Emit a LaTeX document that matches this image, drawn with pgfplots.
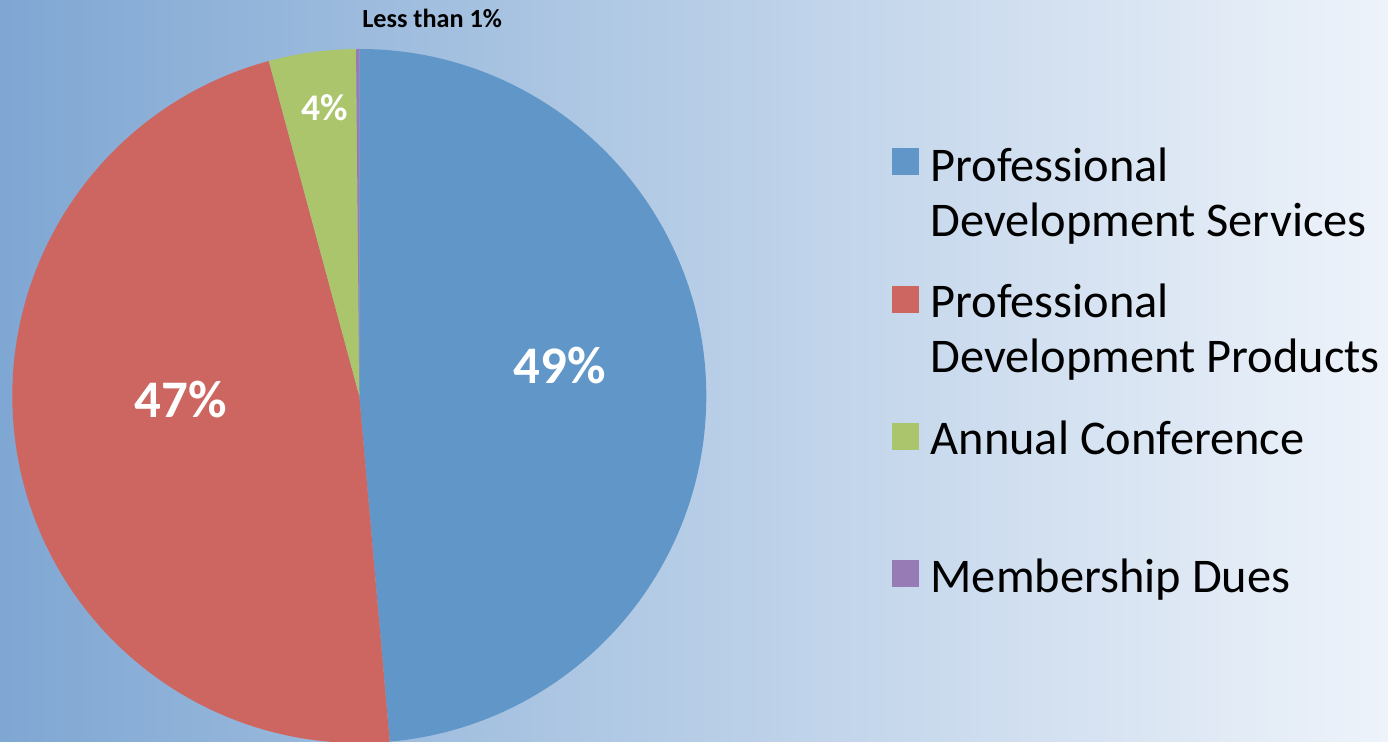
\documentclass[border=0pt]{standalone}
\usepackage{pgfplots}
\usepackage{pgfplotstable}
\pgfplotsset{compat=1.18}
\usepackage{fontspec}
\setmainfont{Carlito}
\definecolor{bgL}{RGB}{127,167,211}
\definecolor{bgR}{RGB}{238,243,250}
\definecolor{cBlue}{RGB}{96,150,200}
\definecolor{cRed}{RGB}{205,102,96}
\definecolor{cGreen}{RGB}{171,197,109}
\definecolor{cPurple}{RGB}{151,123,180}
\pgfplotstableread{
share
48.6
47.2
4.05
0.15
}\piedata
\begin{document}
\begin{tikzpicture}
\path[use as bounding box] (0,0) rectangle (694pt,371pt);
\shade[left color=bgL, right color=bgR] (0,0) rectangle (694pt,371pt);
% cumulative angles from the data
\pgfplotstablegetelem{0}{share}\of\piedata \let\va\pgfplotsretval
\pgfplotstablegetelem{1}{share}\of\piedata \let\vb\pgfplotsretval
\pgfplotstablegetelem{2}{share}\of\piedata \let\vc\pgfplotsretval
\pgfplotstablegetelem{3}{share}\of\piedata \let\vd\pgfplotsretval
\pgfmathsetmacro\aA{90}
\pgfmathsetmacro\aB{\aA-3.6*\va}
\pgfmathsetmacro\aC{\aB-3.6*\vb}
\pgfmathsetmacro\aD{\aC-3.6*\vc}
\pgfmathsetmacro\aE{\aD-3.6*\vd}
\def\R{173.5pt}
\begin{axis}[
  at={(179.65pt,173pt)}, anchor=center,
  scale only axis, width=347pt, height=347pt,
  xmin=-1, xmax=1, ymin=-1, ymax=1,
  hide axis, clip=false,
]
\fill[cBlue] (axis cs:0,0) -- (axis cs:{cos(\aA)},{sin(\aA)}) arc[start angle=\aA, end angle=\aB, radius=\R] -- cycle;
\fill[cRed] (axis cs:0,0) -- (axis cs:{cos(\aB)},{sin(\aB)}) arc[start angle=\aB, end angle=\aC, radius=\R] -- cycle;
\fill[cGreen] (axis cs:0,0) -- (axis cs:{cos(\aC)},{sin(\aC)}) arc[start angle=\aC, end angle=\aD, radius=\R] -- cycle;
\fill[cPurple] (axis cs:0,0) -- (axis cs:{cos(\aD)},{sin(\aD)}) arc[start angle=\aD, end angle=\aE, radius=\R] -- cycle;
\node[anchor=base, inner sep=0pt, text=white, font=\fontsize{26.4}{30}\selectfont\bfseries] at (axis cs:0.578,0.0346) {49\%};
\node[anchor=base, inner sep=0pt, text=white, font=\fontsize{26.4}{30}\selectfont\bfseries] at (axis cs:-0.515,-0.0634) {47\%};
\node[anchor=base, inner sep=0pt, text=white, font=\fontsize{18.8}{20}\selectfont\bfseries] at (axis cs:-0.099,0.795) {4\%};
\node[anchor=base, inner sep=0pt, text=black, font=\fontsize{13.1}{15}\selectfont\bfseries] at (axis cs:0.2098,1.0605) {Less than 1\%};
\end{axis}
% legend
\fill[cBlue] (446pt,283.5pt) rectangle (459.5pt,297pt);
\fill[cRed] (446pt,214.5pt) rectangle (459.5pt,228pt);
\fill[cGreen] (446pt,146pt) rectangle (459.5pt,159.5pt);
\fill[cPurple] (446pt,77.5pt) rectangle (459.5pt,91pt);
\begin{scope}[every node/.style={anchor=base west, inner sep=0pt, font=\fontsize{24.2}{28}\selectfont}]
\node at (465.1pt,280pt) {Professional};
\node at (465.1pt,252.5pt) {Development Services};
\node at (465.1pt,212pt) {Professional};
\node at (465.1pt,184.5pt) {Development Products};
\node at (465.1pt,143.5pt) {Annual Conference};
\node at (465.1pt,74.5pt) {Membership Dues};
\end{scope}
\end{tikzpicture}
\end{document}
